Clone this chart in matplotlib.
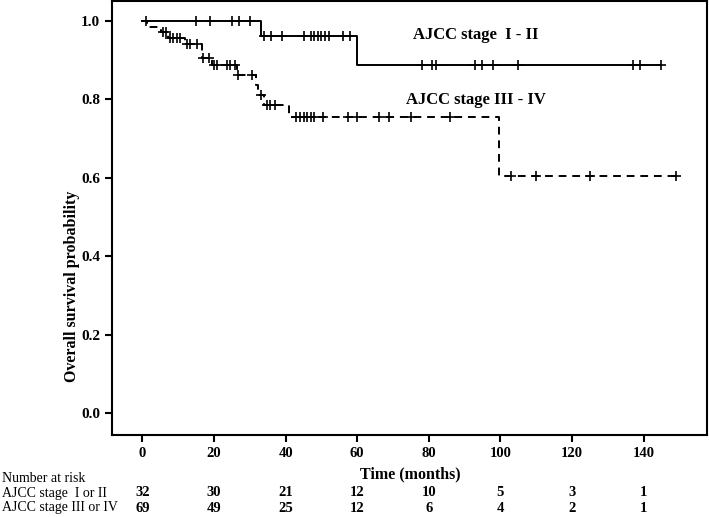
import numpy as np
import matplotlib
matplotlib.use("Agg")
import matplotlib.pyplot as plt

plt.rcParams['font.family'] = ['Liberation Serif', 'DejaVu Serif']
plt.rcParams['font.weight'] = 'bold'

# stage I-II: step times and survival after each step
times_early = [0, 33, 60, 145]
surv_early = [1.0, 0.962, 0.888, 0.888]
censor_early = [1, 15, 19, 25, 27, 30, 34, 36, 39, 45, 47, 48, 49, 50, 51,
                52, 56, 58, 78, 81, 82, 93, 95, 98, 105, 137, 139, 145]

# stage III-IV
times_late = [0, 1.3, 5.2, 7.1, 11.9, 16.6, 19.4, 26.4, 31.7, 32.3, 34.0, 40.9, 99.6, 149]
surv_late = [1.0, 0.986, 0.972, 0.957, 0.942, 0.906, 0.888, 0.862, 0.836, 0.812,
             0.785, 0.754, 0.604, 0.604]
censor_late = [5.8, 6.6, 7.7, 8.5, 9.6, 10.5, 12.4, 13.3, 15.2, 17, 18.6, 19.9,
               20.8, 23.6, 24.4, 25.8, 26.8, 30.5, 33, 34.7, 35.6, 37, 43, 44, 45,
               46, 47, 48, 50.5, 57.5, 60, 66, 69, 75, 86, 103, 110, 125, 149]

risk_times = [0, 20, 40, 60, 80, 100, 120, 140]
risk_early = [32, 30, 21, 12, 10, 5, 3, 1]
risk_late = [69, 49, 25, 12, 6, 4, 2, 1]


def level_at(times, surv, t):
    idx = np.searchsorted(times, t, side='right') - 1
    return np.array(surv)[idx]


fig = plt.figure(figsize=(7.09, 5.17), dpi=100)
ax = fig.add_axes([0.158, 0.1586, 0.839, 0.8394])

ax.step(times_early, surv_early, where='post', color='black', lw=1.4)
ax.plot(censor_early, level_at(times_early, surv_early, censor_early), '+',
        color='black', ms=7, mew=1.2)

ax.step(times_late, surv_late, where='post', color='black', lw=1.4,
        linestyle=(0, (4, 3)))
ax.plot(censor_late, level_at(times_late, surv_late, censor_late), '+',
        color='black', ms=7, mew=1.2)

# group labels, placed in figure pixels (from top)
fig.text(476 / 709, 1 - 35 / 517, 'AJCC stage  I - II', fontsize=12,
         ha='center', va='center')
fig.text(476 / 709, 1 - 100 / 517, 'AJCC stage III - IV', fontsize=12,
         ha='center', va='center')

ax.set_xlim(-8.5, 157.7)
ax.set_ylim(-0.056, 1.051)
ax.set_xticks(risk_times)
ax.set_yticks([0.0, 0.2, 0.4, 0.6, 0.8, 1.0])
ax.set_yticklabels(['0.0', '0.2', '0.4', '0.6', '0.8', '1.0'])
ax.tick_params(direction='out', length=5, width=1.5, labelsize=10.5)
ax.tick_params(axis='y', labelsize=11)
for s in ax.spines.values():
    s.set_linewidth(1.5)

ax.set_ylabel('Overall survival probability', fontsize=11.5, fontweight='bold')
ax.yaxis.set_label_coords(72 / 709, 1 - 286 / 517, transform=fig.transFigure)
ax.set_xlabel('Time (months)', fontsize=11.5, fontweight='bold')
ax.xaxis.set_label_coords(410 / 709, 1 - 474 / 517, transform=fig.transFigure)
ax.xaxis.label.set_va('center')
ax.yaxis.label.set_va('center')

# number at risk table
fig.text(2 / 709, 1 - 478 / 517, 'Number at risk', fontsize=10,
         fontweight='normal', va='center')
fig.text(2 / 709, 1 - 493 / 517, 'AJCC stage  I or II', fontsize=10,
         fontweight='normal', va='center')
fig.text(2 / 709, 1 - 508 / 517, 'AJCC stage III or IV', fontsize=10,
         fontweight='normal', va='center')
for t, a, b in zip(risk_times, risk_early, risk_late):
    xf = fig.transFigure.inverted().transform(ax.transData.transform((t, 0)))[0]
    fig.text(xf, 1 - 493 / 517, str(a), fontsize=10.5, ha='center', va='center')
    fig.text(xf, 1 - 508 / 517, str(b), fontsize=10.5, ha='center', va='center')

fig.savefig('out.png', dpi=100)
